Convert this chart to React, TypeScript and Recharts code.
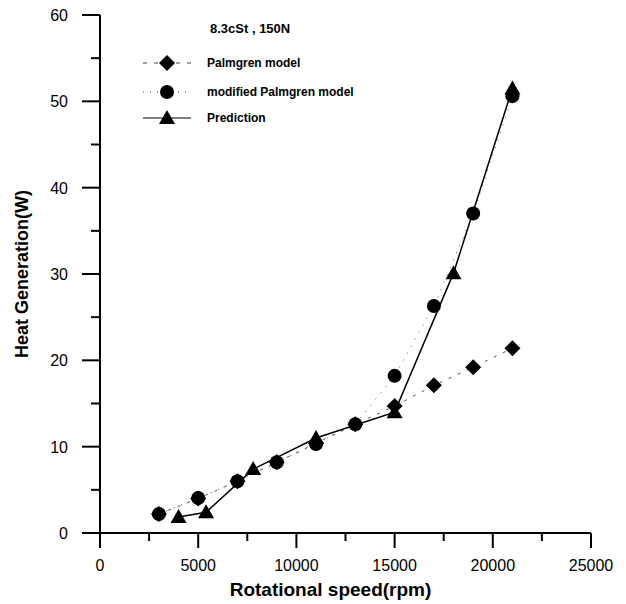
import { LineChart, Line, XAxis, YAxis, Label } from 'recharts'

document.body.style.margin = '0'

const FONT = '"Liberation Sans", Arial, sans-serif'

// Rotational speed (rpm) and heat generation (W)
const palmgrenSpeed = [3000, 5000, 7000, 9000, 11000, 13000, 15000, 17000, 19000, 21000]
const palmgrenHeat = [2.2, 4.0, 6.0, 8.2, 10.4, 12.6, 14.7, 17.1, 19.2, 21.4]

const modifiedSpeed = [3000, 5000, 7000, 9000, 11000, 13000, 15000, 17000, 19000, 21000]
const modifiedHeat = [2.2, 4.05, 6.0, 8.2, 10.3, 12.6, 18.2, 26.3, 37.0, 50.6]

const predictionSpeed = [4000, 5400, 7800, 11000, 15000, 18000, 21000]
const predictionHeat = [1.85, 2.4, 7.4, 11.0, 14.0, 30.1, 51.5]

const xTicks = [0, 2500, 5000, 7500, 10000, 12500, 15000, 17500, 20000, 22500, 25000]
const yTicks = [0, 5, 10, 15, 20, 25, 30, 35, 40, 45, 50, 55, 60]

const legendTitle = '8.3cSt , 150N'
const seriesNames = ['Palmgren model', 'modified Palmgren model', 'Prediction']

const toPoints = (xs: number[], ys: number[]) => xs.map((x, i) => ({ x, y: ys[i] }))

const palmgren = toPoints(palmgrenSpeed, palmgrenHeat)
const modified = toPoints(modifiedSpeed, modifiedHeat)
const prediction = toPoints(predictionSpeed, predictionHeat)

function diamond(cx: number, cy: number, key?: any) {
  return <path key={key} d={`M${cx},${cy - 8}L${cx + 8},${cy}L${cx},${cy + 8}L${cx - 8},${cy}Z`} fill="#000" />
}
function circle(cx: number, cy: number, key?: any) {
  return <circle key={key} cx={cx} cy={cy} r={7} fill="#000" />
}
function triangle(cx: number, cy: number, key?: any) {
  return <path key={key} d={`M${cx},${cy - 8}L${cx + 8},${cy + 6}L${cx - 8},${cy + 6}Z`} fill="#000" />
}

function XTick({ x, y, payload }: any) {
  const major = payload.value % 5000 === 0
  return (
    <g>
      <line x1={x} x2={x} y1={y} y2={y + (major ? 15 : 8)} stroke="#000" strokeWidth={2} />
      {major && (
        <text x={x} y={y + 38} textAnchor="middle" fontSize={16} fontFamily={FONT} fill="#000">
          {payload.value}
        </text>
      )}
    </g>
  )
}

function YTick({ x, y, payload }: any) {
  const major = payload.value % 10 === 0
  return (
    <g>
      <line x1={x} x2={x - (major ? 18 : 9)} y1={y} y2={y} stroke="#000" strokeWidth={2} />
      {major && (
        <text x={x - 32} y={y + 6} textAnchor="end" fontSize={16} fontFamily={FONT} fill="#000">
          {payload.value}
        </text>
      )}
    </g>
  )
}

function ChartLegend() {
  const rows = [
    { y: 63, dash: '4 7', stroke: '#444', mark: diamond },
    { y: 92, dash: '1 6', stroke: '#444', mark: circle },
    { y: 118, dash: undefined, stroke: '#000', mark: triangle },
  ]
  return (
    <svg width={626} height={604} style={{ position: 'absolute', left: 0, top: 0, pointerEvents: 'none' }}>
      <text x={210} y={33} fontSize={13} fontWeight="bold" fontFamily={FONT}>
        {legendTitle}
      </text>
      {rows.map((r, i) => (
        <g key={i}>
          <line x1={143} x2={191} y1={r.y} y2={r.y} stroke={r.stroke} strokeWidth={1.2} strokeDasharray={r.dash} />
          {r.mark(167, r.y)}
          <text x={207} y={r.y + 4} fontSize={12} fontWeight="bold" fontFamily={FONT}>
            {seriesNames[i]}
          </text>
        </g>
      ))}
    </svg>
  )
}

export default function App() {
  return (
    <div style={{ position: 'relative', width: 626, height: 604, background: '#fff' }}>
      <LineChart width={626} height={604} margin={{ top: 15, right: 35, bottom: 0, left: 0 }}>
        <XAxis
          dataKey="x"
          type="number"
          domain={[0, 25000]}
          ticks={xTicks}
          tick={<XTick />}
          tickSize={0}
          tickMargin={0}
          tickLine={false}
          height={71}
          axisLine={{ stroke: '#000', strokeWidth: 2 }}
          allowDataOverflow
        >
          <Label
            value="Rotational speed(rpm)"
            position="insideBottom"
            offset={8}
            dx={-15}
            style={{ fontSize: 19, fontWeight: 'bold', fontFamily: FONT, fill: '#000' }}
          />
        </XAxis>
        <YAxis
          dataKey="y"
          type="number"
          domain={[0, 60]}
          ticks={yTicks}
          tick={<YTick />}
          tickSize={0}
          tickMargin={0}
          tickLine={false}
          width={100}
          axisLine={{ stroke: '#000', strokeWidth: 2 }}
          allowDataOverflow
        >
          <Label
            value="Heat Generation(W)"
            angle={-90}
            position="insideLeft"
            offset={22}
            style={{ fontSize: 18, fontWeight: 'bold', fontFamily: FONT, fill: '#000', textAnchor: 'middle' }}
          />
        </YAxis>
        <Line
          data={palmgren}
          dataKey="y"
          type="linear"
          stroke="#555"
          strokeWidth={1}
          strokeDasharray="3 7"
          dot={(p: any) => diamond(p.cx, p.cy, `d${p.index}`)}
          activeDot={false}
          isAnimationActive={false}
        />
        <Line
          data={modified}
          dataKey="y"
          type="linear"
          stroke="#555"
          strokeWidth={1}
          strokeDasharray="1 7"
          dot={(p: any) => circle(p.cx, p.cy, `c${p.index}`)}
          activeDot={false}
          isAnimationActive={false}
        />
        <Line
          data={prediction}
          dataKey="y"
          type="linear"
          stroke="#000"
          strokeWidth={1.5}
          dot={(p: any) => triangle(p.cx, p.cy, `t${p.index}`)}
          activeDot={false}
          isAnimationActive={false}
        />
      </LineChart>
      <ChartLegend />
    </div>
  )
}
